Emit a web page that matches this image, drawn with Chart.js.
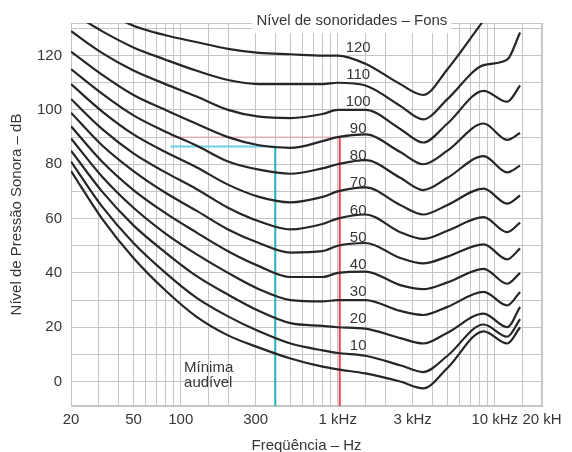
<!DOCTYPE html>
<html>
<head>
<meta charset="utf-8">
<script src="https://cdn.jsdelivr.net/npm/chart.js@4.4.1/dist/chart.umd.min.js"></script>
<style>
  html, body { margin: 0; padding: 0; background: #fff; }
</style>
</head>
<body>
<canvas id="myChart" width="572" height="452"></canvas>
<script>
var freqs = [20, 31.5, 50, 80, 125, 200, 315, 500, 800, 1000, 1500, 2500, 3500, 5000, 8500, 12000, 14500];

// sound pressure level (dB) of each equal-loudness curve at those frequencies
var fons120 = [145, 137, 131, 127.5, 125, 122.5, 121, 120.5, 120, 120, 117, 109.5, 105.5, 115, 133, null, null];
var fons110 = [136, 129, 123, 118.5, 114.5, 111, 109.5, 109.5, 109.5, 110, 109, 101.5, 96.5, 104, 116.5, 118.5, 128.5];
var fons100 = [129, 121, 114.5, 109.5, 105, 100, 97.5, 97, 98.5, 100, 100, 93, 88, 95, 107, 103, 109];
var fons90 = [121.5, 113, 105.5, 100, 95, 90, 87, 86, 88.5, 90, 91, 84.5, 80, 85, 95, 89, 91.5];
var fons80 = [115, 106, 98, 92, 87, 81, 78, 76.5, 78.5, 80, 81.5, 75, 70.5, 75, 83, 77, 79.5];
var fons70 = [109.5, 99.5, 91, 84.5, 79, 72.5, 68, 66, 68, 70, 71.5, 65, 61.5, 65, 71, 65.5, 68.5];
var fons60 = [104, 93, 84, 77, 71, 64, 59, 56, 58, 60, 61.5, 55, 52.5, 55.5, 60.5, 55, 58.5];
var fons50 = [99, 87, 77.5, 69.5, 63, 56, 51, 47.5, 48, 50, 51, 45.5, 43.5, 46, 50.5, 45, 49];
var fons40 = [94, 81, 70.5, 62, 55, 48, 42.5, 38.5, 38.5, 40, 40.5, 35.5, 34, 36.5, 41.5, 36, 40];
var fons30 = [89.5, 75.5, 64, 54.5, 47, 40, 34, 30, 29.5, 30, 30, 26, 24.5, 27.5, 33, 28, 33];
var fons20 = [85, 70, 57.5, 47.5, 39, 32, 26, 21.5, 20.5, 20, 19.5, 16, 14, 18, 25, 20, 27.5];
var fons10 = [81, 64.5, 51, 40, 31, 24, 18.5, 14, 11.5, 10.5, 9.5, 6, 3.5, 9.5, 21, 16.5, 23];
var minimaAudivel = [77.5, 60, 45.5, 33.5, 24, 17, 12.5, 8.5, 5.5, 4.5, 3, 0, -2.5, 5, 18.5, 14, 20];

var curves = [fons120, fons110, fons100, fons90, fons80, fons70, fons60, fons50, fons40, fons30, fons20, fons10, minimaAudivel];
var fonsLevels = [120, 110, 100, 90, 80, 70, 60, 50, 40, 30, 20, 10];

// axis ticks
var freqTickLabels = { 20: '20', 50: '50', 100: '100', 300: '300', 1000: '1 kHz', 3000: '3 kHz', 10000: '10 kHz', 20000: '20 kH' };
var dbTickLabels = [0, 20, 40, 60, 80, 100, 120];

// marked example: 400 Hz at 86.5 dB (cyan) and 1 kHz at 90 dB (red)
var cyanFreq = 400, cyanLevel = 86.5, cyanFrom = 86;
var redFreq = 1030, redLevel = 90;

var yMin = -9, yMax = 132;
var gridColor = '#c6c6c6';
var textColor = '#363636';
var fontFamily = "'Liberation Sans', Arial, sans-serif";

function toPoints(values) {
    return freqs.map(function (f, i) { return { x: f, y: values[i] }; });
}

var datasets = curves.map(function (c) {
    return {
        data: toPoints(c),
        borderColor: '#262626',
        borderWidth: 2.2,
        pointRadius: 0,
        fill: false,
        cubicInterpolationMode: 'monotone',
        spanGaps: false
    };
});

datasets.push({
    data: [{ x: cyanFrom, y: redLevel }, { x: redFreq, y: redLevel }],
    borderColor: 'rgba(240, 140, 150, 0.45)', borderWidth: 1.5, pointRadius: 0
});
datasets.push({
    data: [{ x: cyanFrom, y: cyanLevel }, { x: cyanFreq, y: cyanLevel }],
    borderColor: '#6fd0e2', borderWidth: 2, pointRadius: 0
});
datasets.push({
    data: [{ x: cyanFreq, y: yMin }, { x: cyanFreq, y: cyanLevel }],
    borderColor: '#22b3b8', borderWidth: 2, pointRadius: 0
});
datasets.push({
    data: [{ x: redFreq, y: yMin }, { x: redFreq, y: redLevel }],
    borderColor: '#ee4455', borderWidth: 2, pointRadius: 0
});

var annotations = {
    id: 'annotations',
    beforeDatasetsDraw: function (chart) {
        var ctx = chart.ctx, a = chart.chartArea;
        ctx.save();
        ctx.strokeStyle = gridColor;
        ctx.lineWidth = 1;
        ctx.strokeRect(a.left + 0.5, a.top + 0.5, a.right - a.left - 1, a.bottom - a.top - 1);
        // white box behind the top caption
        ctx.font = '15px ' + fontFamily;
        var cx = chart.scales.x.getPixelForValue(1230);
        var w = ctx.measureText('Nível de sonoridades – Fons').width;
        ctx.fillStyle = '#fff';
        ctx.fillRect(cx - w / 2 - 4, 0, w + 8, a.top + 10);
        ctx.restore();
    },
    afterDraw: function (chart) {
        var ctx = chart.ctx, a = chart.chartArea;
        var xs = chart.scales.x, ys = chart.scales.y;
        ctx.save();
        ctx.fillStyle = textColor;
        ctx.font = '15px ' + fontFamily;
        ctx.textAlign = 'center';
        ctx.textBaseline = 'middle';
        ctx.fillText('Nível de sonoridades – Fons', xs.getPixelForValue(1230), a.top - 2);
        fonsLevels.forEach(function (p) {
            ctx.fillText(String(p), xs.getPixelForValue(1350), ys.getPixelForValue(p + 3));
        });
        ctx.textAlign = 'left';
        ctx.fillText('Mínima', xs.getPixelForValue(105), ys.getPixelForValue(5.2));
        ctx.fillText('audível', xs.getPixelForValue(105), ys.getPixelForValue(-0.4));
        ctx.restore();
    }
};

var ctx = document.getElementById('myChart').getContext('2d');
var myChart = new Chart(ctx, {
    type: 'line',
    data: { datasets: datasets },
    plugins: [annotations],
    options: {
        responsive: false,
        animation: false,
        devicePixelRatio: 1,
        layout: { padding: { left: 0, right: 30, top: 23, bottom: 0 } },
        plugins: {
            legend: { display: false },
            tooltip: { enabled: false }
        },
        scales: {
            x: {
                type: 'logarithmic',
                min: 20,
                max: 20000,
                afterFit: function (scale) { scale.height = 46; },
                grid: { color: gridColor, drawTicks: false },
                border: { color: gridColor },
                ticks: {
                    autoSkip: false,
                    maxRotation: 0,
                    padding: 5,
                    color: textColor,
                    font: { family: fontFamily, size: 15 },
                    callback: function (v) { return freqTickLabels[v] || ''; }
                },
                title: {
                    display: true,
                    text: 'Freqüência – Hz',
                    color: textColor,
                    font: { family: fontFamily, size: 15, lineHeight: 0.8 },
                    padding: { top: 0, bottom: 0 }
                }
            },
            y: {
                min: yMin,
                max: yMax,
                afterFit: function (scale) { scale.width = 71; },
                grid: { color: gridColor, drawTicks: false },
                border: { color: gridColor },
                ticks: {
                    stepSize: 10,
                    includeBounds: false,
                    padding: 9,
                    color: textColor,
                    font: { family: fontFamily, size: 15 },
                    callback: function (v) { return dbTickLabels.indexOf(v) >= 0 ? v : ''; }
                },
                title: {
                    display: true,
                    text: 'Nível de Pressão Sonora – dB',
                    color: textColor,
                    font: { family: fontFamily, size: 15 },
                    padding: { top: 8, bottom: 0 }
                }
            }
        }
    }
});
</script>
</body>
</html>
